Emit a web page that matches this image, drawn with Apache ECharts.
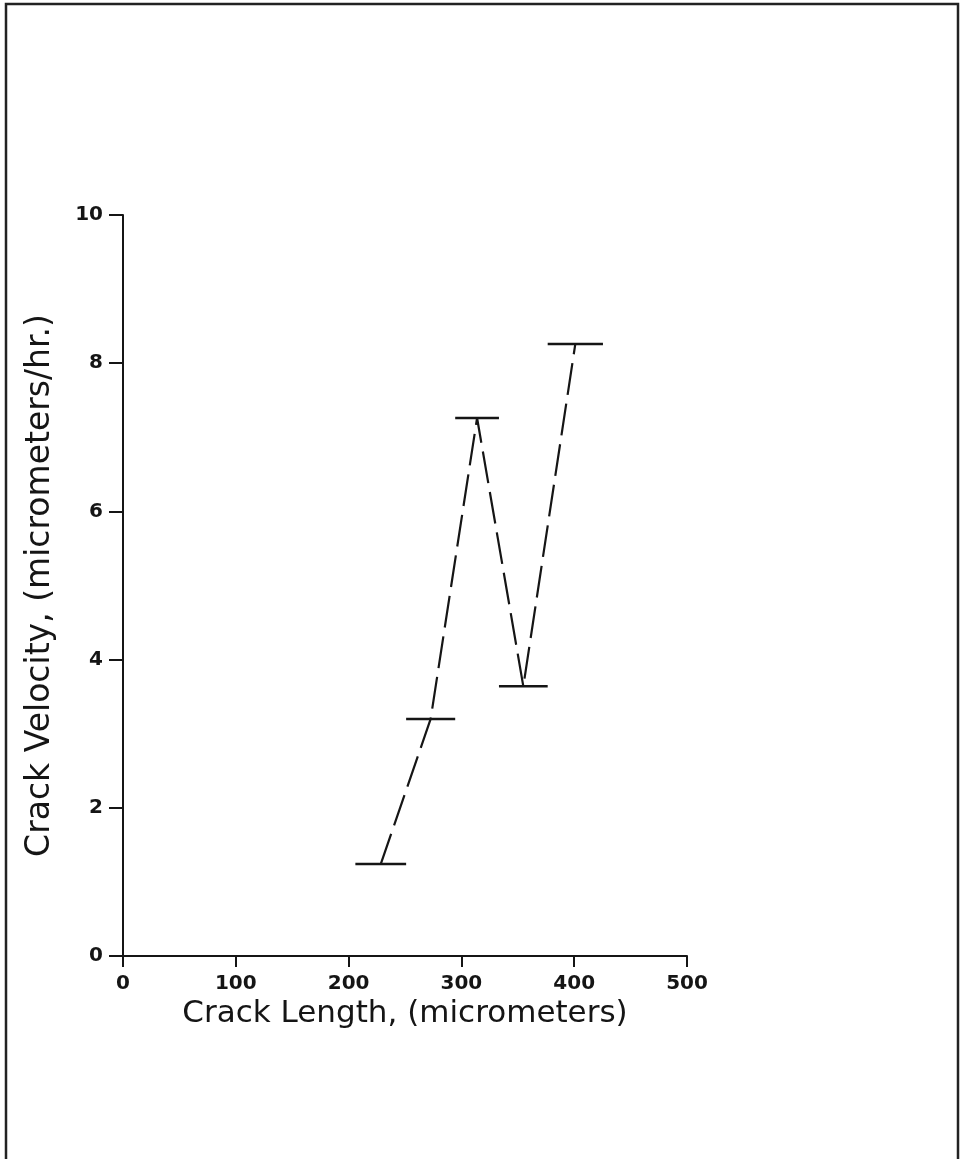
<!DOCTYPE html>
<html>
<head>
<meta charset="utf-8">
<script src="https://cdn.jsdelivr.net/npm/echarts@6/dist/echarts.min.js"></script>
<style>
html,body{margin:0;padding:0;background:#fff;}
#chart{width:962px;height:1159px;}
</style>
</head>
<body>
<div id="chart"></div>
<script>
// Crack length interval (micrometers) for each measurement
const lengthStart = [206, 251, 294.5, 333.3, 376.5];
const lengthEnd   = [251, 294.5, 333.3, 376.5, 425.5];
// Crack velocity (micrometers/hr.)
const velocity    = [1.24, 3.20, 7.26, 3.64, 8.26];
const xTicks = [0, 100, 200, 300, 400, 500];
const yTicks = [0, 2, 4, 6, 8, 10];

const midpoints = lengthStart.map((s, i) => [(s + lengthEnd[i]) / 2, velocity[i]]);
const barData = lengthStart.map((s, i) => [s, lengthEnd[i], velocity[i]]);

const ink = '#151515';
const font = 'DejaVu Sans';

const chart = echarts.init(document.getElementById('chart'), null, {renderer: 'canvas'});
chart.setOption({
  backgroundColor: '#ffffff',
  animation: false,
  graphic: [{
    type: 'rect',
    shape: {x: 6, y: 4, width: 952, height: 1175},
    style: {fill: 'none', stroke: '#222', lineWidth: 2.5},
    silent: true
  }],
  grid: {left: 123, right: 275, top: 215, bottom: 203, containLabel: false},
  xAxis: {
    type: 'value', min: 0, max: 500, interval: 100,
    name: 'Crack Length, (micrometers)',
    nameLocation: 'middle', nameGap: 40,
    nameTextStyle: {fontFamily: font, fontSize: 31, color: ink},
    axisLine: {show: true, onZero: false, lineStyle: {color: ink, width: 2}},
    axisTick: {show: true, inside: false, length: 11, lineStyle: {color: ink, width: 2}},
    axisLabel: {margin: 18, fontFamily: font, fontWeight: 'bold', fontSize: 20, color: ink,
      formatter: v => xTicks.includes(v) ? String(v) : ''},
    splitLine: {show: false}
  },
  yAxis: {
    type: 'value', min: 0, max: 10, interval: 2,
    name: 'Crack Velocity, (micrometers/hr.)',
    nameLocation: 'middle', nameGap: 66, nameRotate: 90,
    nameTextStyle: {fontFamily: font, fontSize: 33, color: ink},
    axisLine: {show: true, onZero: false, lineStyle: {color: ink, width: 2}},
    axisTick: {show: true, inside: false, length: 14, lineStyle: {color: ink, width: 2}},
    axisLabel: {margin: 20, fontFamily: font, fontWeight: 'bold', fontSize: 20, color: ink,
      formatter: v => yTicks.includes(v) ? String(v) : ''},
    splitLine: {show: false}
  },
  series: [
    {
      type: 'line',
      data: midpoints,
      symbol: 'none',
      lineStyle: {color: ink, width: 2.2, type: [32, 9]},
      z: 2
    },
    {
      type: 'custom',
      data: barData,
      renderItem: function (params, api) {
        const p1 = api.coord([api.value(0), api.value(2)]);
        const p2 = api.coord([api.value(1), api.value(2)]);
        return {
          type: 'line',
          shape: {x1: p1[0], y1: p1[1], x2: p2[0], y2: p2[1]},
          style: {stroke: ink, lineWidth: 2.5}
        };
      },
      z: 3
    }
  ]
});
</script>
</body>
</html>
